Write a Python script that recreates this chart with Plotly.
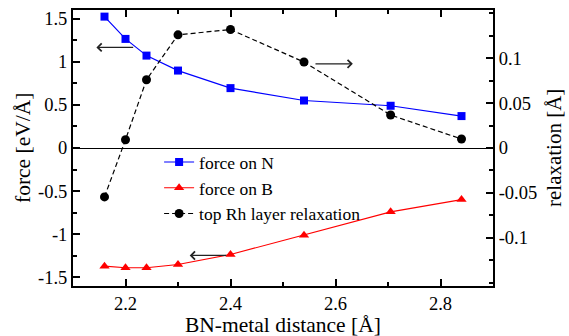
import plotly.graph_objects as go

# data
distance = [2.16, 2.20, 2.24, 2.30, 2.40, 2.54, 2.705, 2.84]
force_N = [1.527, 1.268, 1.074, 0.900, 0.696, 0.552, 0.491, 0.371]
force_B = [-1.373, -1.392, -1.392, -1.354, -1.238, -1.014, -0.742, -0.600]
relax = [-0.0544, 0.0092, 0.0759, 0.1259, 0.1318, 0.0956, 0.0367, 0.0100]

x_ticks = [2.2, 2.4, 2.6, 2.8]
x_labels = ["2.2", "2.4", "2.6", "2.8"]
y_ticks = [-1.5, -1.0, -0.5, 0.0, 0.5, 1.0, 1.5]
y_labels = ["-1.5", "-1", "-0.5", "0", "0.5", "1", "1.5"]
y2_ticks = [-0.1, -0.05, 0.0, 0.05, 0.1]
y2_labels = ["-0.1", "-0.05", "0", "0.05", "0.1"]

x_title = "BN-metal distance [Å]"
y_title = "force [eV/Å]"
y2_title = "relaxation [Å]"

FONT = "Liberation Serif, Times New Roman, serif"

fig = go.Figure()
fig.add_trace(go.Scatter(x=distance, y=force_N, name="force on N", mode="lines+markers",
                         line=dict(color="#0000ff", width=1.2),
                         marker=dict(symbol="square", size=8, color="#0000ff")))
fig.add_trace(go.Scatter(x=distance, y=force_B, name="force on B", mode="lines+markers",
                         line=dict(color="#ff0000", width=1.2),
                         marker=dict(symbol="triangle-up", size=9, color="#ff0000")))
fig.add_trace(go.Scatter(x=distance, y=relax, name="top Rh layer relaxation", mode="lines+markers",
                         yaxis="y2",
                         line=dict(color="black", width=1.2, dash="5px,3px"),
                         marker=dict(symbol="circle", size=9, color="black")))

axis_common = dict(showline=True, linecolor="black", linewidth=2, ticks="inside",
                   ticklen=7, tickwidth=1.5, tickcolor="black", showgrid=False,
                   automargin=False,
                   tickfont=dict(family=FONT, size=18.5, color="black"))

fig.update_layout(
    width=569, height=336,
    margin=dict(l=73, r=76, t=10, b=50),
    plot_bgcolor="white", paper_bgcolor="white",
    font=dict(family=FONT, color="black"),
    showlegend=True,
    legend=dict(x=0.205, y=0.514, xanchor="left", yanchor="top",
                bgcolor="rgba(0,0,0,0)", font=dict(family=FONT, size=17.5, color="black"),
                itemwidth=30, tracegroupgap=0),
    xaxis=dict(range=[2.1, 2.9], tickmode="array", tickvals=x_ticks, ticktext=x_labels,
               mirror="ticks", zeroline=False,
               minor=dict(ticks="inside", ticklen=4, tickwidth=1.5, tickcolor="black",
                          tickmode="linear", tick0=2.1, dtick=0.1),
               **axis_common),
    yaxis=dict(range=[-1.604, 1.604], tickmode="array", tickvals=y_ticks, ticktext=y_labels,
               zeroline=True, zerolinecolor="black", zerolinewidth=1,
               minor=dict(ticks="inside", ticklen=4, tickwidth=1.5, tickcolor="black",
                          tickmode="linear", tick0=0, dtick=0.25),
               **axis_common),
    yaxis2=dict(range=[-0.1535, 0.1535], overlaying="y", side="right",
                tickmode="array", tickvals=y2_ticks, ticktext=y2_labels, zeroline=False,
                minor=dict(ticks="inside", ticklen=4, tickwidth=1.5, tickcolor="black",
                           tickmode="linear", tick0=0, dtick=0.025),
                **axis_common),
)

title_font = dict(family=FONT, size=21.5, color="black")
fig.add_annotation(text=x_title, xref="paper", yref="paper", x=0.5, y=0, xanchor="center",
                   yanchor="middle", yshift=-39, showarrow=False, font=title_font)
fig.add_annotation(text=y_title, xref="paper", yref="paper", x=0, y=0.5, xanchor="center",
                   yanchor="middle", xshift=-50, textangle=-90, showarrow=False, font=title_font)
fig.add_annotation(text=y2_title, xref="paper", yref="paper", x=1, y=0.5, xanchor="center",
                   yanchor="middle", xshift=61, textangle=-90, showarrow=False,
                   font=dict(family=FONT, size=21, color="black"))

arrow_style = dict(showarrow=True, arrowhead=4, arrowsize=1.3, arrowwidth=1.2,
                   arrowcolor="#222222", text="", axref="x", ayref="y", xref="x", yref="y")
fig.add_annotation(x=2.1446, y=1.169, ax=2.2175, ay=1.169, **arrow_style)
fig.add_annotation(x=2.633, y=0.978, ax=2.559, ay=0.978, **arrow_style)
fig.add_annotation(x=2.3223, y=-1.249, ax=2.3947, ay=-1.249, **arrow_style)

fig.write_html("out.html")
